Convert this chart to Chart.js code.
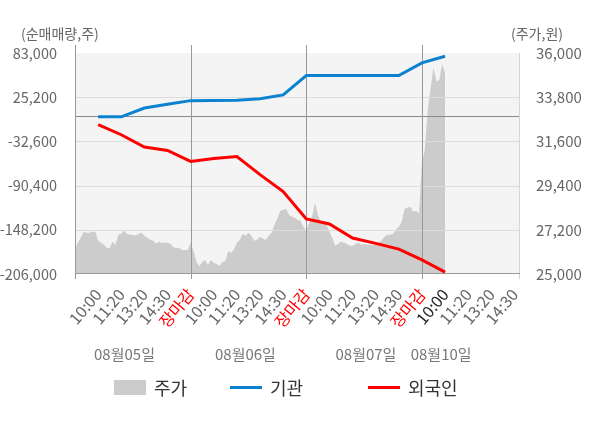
<!DOCTYPE html>
<html>
<head>
<meta charset="utf-8">
<script src="https://cdn.jsdelivr.net/npm/chart.js@4/dist/chart.umd.min.js"></script>
<style>
  html, body { margin: 0; padding: 0; background: #fff; }
  #wrap { position: relative; width: 600px; height: 428px; overflow: hidden; }
  #c { position: absolute; left: 0; top: 0; }
  #legend .item { position: absolute; top: 376px; height: 22px; display: flex; align-items: center;
    font-family: 'Noto Sans CJK KR', 'Noto Sans', sans-serif; font-size: 18px; line-height: 22px; color: #333; white-space: nowrap; }
  #legend .sw { display: inline-block; width: 32px; margin-right: 8px; }
  #legend .box { height: 15px; }
  #legend .ln { height: 3px; }
</style>
</head>
<body>
<div id="wrap">
  <canvas id="c" width="600" height="428"></canvas>
  <div id="legend"></div>
</div>
<script>
// ---------- data ----------
const timeLabels = ['10:00','11:20','13:20','14:30','장마감',
                    '10:00','11:20','13:20','14:30','장마감',
                    '10:00','11:20','13:20','14:30','장마감',
                    '10:00','11:20','13:20','14:30'];
const dateLabels = ['08월05일','08월06일','08월07일','08월10일'];
const seriesNames = ['주가','기관','외국인'];
const leftTicks = [-206000, -148200, -90400, -32600, 25200, 83000];
const rightTicks = [25000, 27200, 29400, 31600, 33800, 36000];

// stock price, sampled 8 times per label step (day 1 .. day 4 10:00)
const priceDay1 = [26300,26550,26800,27100,27050,27050,27100,27100,26650,26550,
                   26450,26300,26300,26600,26450,26950,27000,27150,27000,26950,
                   26950,26900,27000,27050,26900,26800,26700,26650,26500,26600,
                   26550,26550,26550,26500,26350,26300,26300,26200,26200,26200];
const priceDay2 = [26550,26150,25600,25400,25600,25700,25450,25700,25550,25500,
                   25400,25600,25650,26150,26050,26250,26550,26700,27000,26900,
                   27050,26900,26650,26700,26850,26750,26700,26900,27050,27450,
                   27750,28150,28200,28250,27950,27850,27800,27700,27650,27350];
const priceDay3 = [27150,27550,27850,28550,27950,27600,27500,27450,27100,26800,
                   26400,26500,26600,26550,26500,26400,26400,26500,26550,26450,
                   26500,26450,26450,26450,26450,26550,26650,26850,26950,26950,
                   27000,27200,27350,27600,28250,28300,28350,28100,28150,28000];
const priceDay4 = [30550,31200,33150,34250,35250,34600,34650,35450,35000];

// net buying (shares) at each time label
const instVals    = [-500,-500,11100,16100,20700,20900,21300,23300,28200,
                     53500,53500,53500,53500,53500,70100,78800];
const foreignVals = [-10700,-23900,-40000,-44500,-58800,-54900,-52400,-76000,-98200,
                     -134000,-140500,-159000,-166000,-173500,-187500,-203500];

// ---------- layout constants ----------
const SAMPLES_PER_STEP = 8;
const X_MAX = 19.24;
const DATE_TICK_AT = [2.14, 7.37, 12.58, 15.83];
const LEGEND_LEFT = [114, 230, 368];
const FONT = "'Noto Sans CJK KR', 'Noto Sans', sans-serif";
Chart.defaults.font.family = FONT;

const priceVals = priceDay1.concat(priceDay2, priceDay3, priceDay4);
const fmt = v => Number(v).toLocaleString('en-US');
const latestIndex = instVals.length - 1;

const frame = {
  id: 'frame',
  beforeDraw(chart) {
    const { ctx, chartArea: a } = chart;
    ctx.save();
    ctx.fillStyle = '#f4f4f4';
    ctx.fillRect(a.left, a.top, a.right - a.left, a.bottom - a.top);
    ctx.restore();
  },
  afterDatasetDraw(chart, args) {
    if (args.index !== 0) return;
    const { ctx, chartArea: a } = chart;
    const ys = chart.scales.y, xs = chart.scales.x;
    const line = (x1, y1, x2, y2, c) => {
      ctx.strokeStyle = c; ctx.beginPath(); ctx.moveTo(x1, y1); ctx.lineTo(x2, y2); ctx.stroke();
    };
    ctx.save();
    ctx.lineWidth = 1;
    leftTicks.forEach(v => {
      if (v === ys.min || v === ys.max) return;
      const py = Math.round(ys.getPixelForValue(v)) + 0.5;
      line(a.left, py, a.right, py, '#dcdcdc');
    });
    const pz = Math.round(ys.getPixelForValue(0)) + 0.5;
    line(a.left, pz, a.right, pz, '#8a8a8a');
    // right border
    const pr = Math.round(a.right) - 0.5;
    line(pr, a.top, pr, a.bottom + 5, '#d6d6d6');
    // day boundaries
    const bounds = [0].concat(timeLabels.map((t, i) => t === '장마감' ? i + 1 : null).filter(v => v !== null));
    bounds.forEach(v => {
      const px = Math.round(xs.getPixelForValue(v)) + 0.5;
      line(px, a.top - 8, px, a.bottom + 5, '#999');
    });
    const pb = Math.round(a.bottom) - 0.5;
    line(a.left, pb, a.right, pb, '#999');
    ctx.restore();
  },
  afterDraw(chart) {
    const { ctx } = chart;
    ctx.save();
    ctx.font = '14px ' + FONT;
    ctx.fillStyle = '#666';
    ctx.textBaseline = 'middle';
    ctx.textAlign = 'left';
    ctx.fillText('(순매매량,주)', 21, 34);
    ctx.textAlign = 'right';
    ctx.fillText('(주가,원)', 563, 34);
    ctx.restore();
  }
};

const chart = new Chart(document.getElementById('c'), {
  type: 'line',
  data: {
    datasets: [
      { label: seriesNames[0], data: priceVals.map((v, i) => ({ x: i / SAMPLES_PER_STEP, y: v })),
        yAxisID: 'y1', xAxisID: 'x', fill: 'start', backgroundColor: '#cccccc', borderColor: '#cccccc',
        borderWidth: 0, pointRadius: 0, tension: 0, order: 3 },
      { label: seriesNames[1], data: instVals.map((v, i) => ({ x: i + 1, y: v })),
        yAxisID: 'y', xAxisID: 'x', fill: false, borderColor: '#0b82cf', backgroundColor: '#0b82cf',
        borderWidth: 3, pointRadius: 0, tension: 0, order: 1 },
      { label: seriesNames[2], data: foreignVals.map((v, i) => ({ x: i + 1, y: v })),
        yAxisID: 'y', xAxisID: 'x', fill: false, borderColor: '#ff0000', backgroundColor: '#ff0000',
        borderWidth: 3, pointRadius: 0, tension: 0, order: 2 }
    ]
  },
  options: {
    responsive: false,
    animation: false,
    devicePixelRatio: 1,
    events: [],
    layout: { padding: { top: 53, left: 0, right: 0, bottom: 60 } },
    plugins: { legend: { display: false }, tooltip: { enabled: false } },
    scales: {
      x: {
        type: 'linear', min: 0, max: X_MAX, position: 'bottom', weight: 0,
        afterBuildTicks: s => { s.ticks = timeLabels.map((_, i) => ({ value: i + 1 })); },
        afterFit: s => { s.height = 54; },
        grid: { display: false }, border: { display: false },
        ticks: {
          autoSkip: false, minRotation: 50, maxRotation: 50, padding: 3,
          font: { size: 16 },
          color: c => timeLabels[c.index] === '장마감' ? '#ff0000' : (c.index === latestIndex ? '#222' : '#666'),
          callback: (v, i) => timeLabels[i]
        }
      },
      xd: {
        type: 'linear', min: 0, max: X_MAX, position: 'bottom', weight: 1,
        afterBuildTicks: s => { s.ticks = DATE_TICK_AT.map(v => ({ value: v })); },
        afterFit: s => { s.height = 40; },
        grid: { display: false }, border: { display: false },
        ticks: { autoSkip: false, minRotation: 0, maxRotation: 0, padding: 9, font: { size: 15 }, color: '#777',
                 callback: (v, i) => dateLabels[i] }
      },
      y: {
        position: 'left', min: leftTicks[0], max: leftTicks[leftTicks.length - 1],
        afterBuildTicks: s => { s.ticks = leftTicks.map(v => ({ value: v })); },
        afterFit: s => { s.width = 75; },
        grid: { display: false }, border: { display: false },
        ticks: { padding: 10, font: { size: 14.5 }, color: '#666', callback: v => fmt(v) }
      },
      y1: {
        position: 'right', min: rightTicks[0], max: rightTicks[rightTicks.length - 1],
        afterBuildTicks: s => { s.ticks = rightTicks.map(v => ({ value: v })); },
        afterFit: s => { s.width = 80; },
        grid: { display: false }, border: { display: false },
        ticks: { padding: 8, font: { size: 15 }, color: '#666', callback: v => fmt(v) }
      }
    }
  },
  plugins: [frame]
});

// HTML legend built from the chart's datasets
const legend = document.getElementById('legend');
chart.data.datasets.forEach((ds, i) => {
  const item = document.createElement('div');
  item.className = 'item';
  item.style.left = LEGEND_LEFT[i] + 'px';
  const sw = document.createElement('span');
  sw.className = 'sw ' + (ds.fill ? 'box' : 'ln');
  sw.style.background = ds.fill ? ds.backgroundColor : ds.borderColor;
  const tx = document.createElement('span');
  tx.textContent = ds.label;
  item.appendChild(sw);
  item.appendChild(tx);
  legend.appendChild(item);
});
</script>
</body>
</html>
